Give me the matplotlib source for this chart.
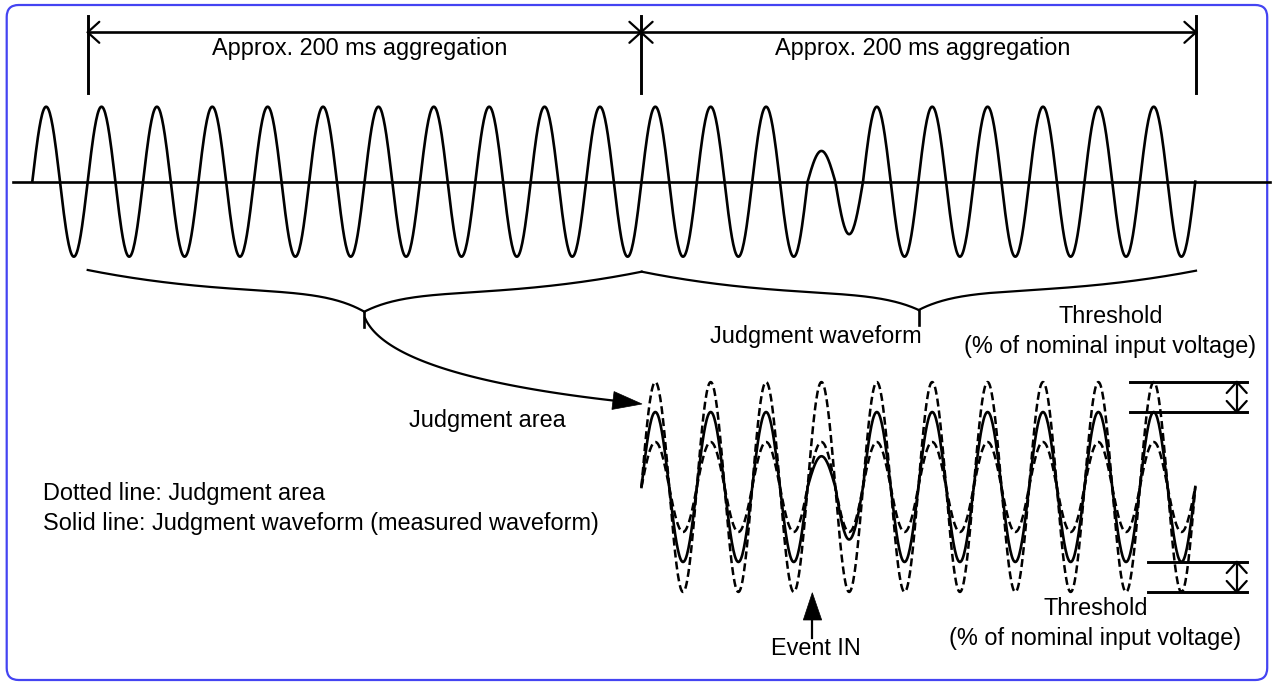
import numpy as np
import matplotlib
matplotlib.use("Agg")
import matplotlib.pyplot as plt
from matplotlib.patches import FancyBboxPatch, Polygon

plt.rcParams['font.family'] = ['Liberation Sans', 'DejaVu Sans']

# ---------------- data ----------------
# relative amplitude of the positive / negative half of each measured cycle
cycle_pos_amplitude = [1.0, 1.0, 1.0, 1.0, 1.0, 1.0, 1.0, 1.0, 1.0, 1.0, 1.0,
                       1.0, 1.0, 1.0, 0.41, 1.0, 1.0, 1.0, 1.0, 1.0, 1.0]
cycle_neg_amplitude = [1.0, 1.0, 1.0, 1.0, 1.0, 1.0, 1.0, 1.0, 1.0, 1.0, 1.0,
                       1.0, 1.0, 1.0, 0.70, 1.0, 1.0, 1.0, 1.0, 1.0, 1.0]
judgment_cycles = [11, 12, 13, 14, 15, 16, 17, 18, 19, 20]
threshold_ratio = 0.40          # judgment area = waveform +/- threshold
aggregation_labels = ["Approx. 200 ms aggregation", "Approx. 200 ms aggregation"]
label_judgment_waveform = "Judgment waveform"
label_judgment_area = "Judgment area"
label_threshold = "Threshold"
label_threshold_sub = "(% of nominal input voltage)"
label_event = "Event IN"
legend_lines = ["Dotted line: Judgment area",
                "Solid line: Judgment waveform (measured waveform)"]

# ---------------- layout ----------------
W, H = 1272, 686
x0, period = 32.3, 55.38
top_c, bot_c, amp = 181.7, 487.0, 75.0
agg_x = [87.7, 641.0, 1196.0]
dim_y, tick_top, tick_bot = 32.3, 16.0, 93.0
FS = 16.9
LW = 1.9
frame_col = '#4444f2'

fig = plt.figure(figsize=(W / 100, H / 100), dpi=100)
ax = fig.add_axes([0, 0, 1, 1])
ax.set_xlim(0, W)
ax.set_ylim(H, 0)
ax.axis('off')

ax.add_patch(FancyBboxPatch((6.7, 5.0), 1260.5, 675.0,
                            boxstyle="round,pad=0,rounding_size=12",
                            ec=frame_col, fc='none', lw=1.6))


def wave(cycles, pos, neg, center, a, n=80):
    xs, ys = [], []
    for k in cycles:
        t = np.linspace(0, 1, n)
        s = np.sin(2 * np.pi * t)
        sc = np.where(s >= 0, pos[k], neg[k])
        xs.append(x0 + (k + t) * period)
        ys.append(center - a * sc * s)
    return np.concatenate(xs), np.concatenate(ys)


def open_v(tip, d, length=11.6, half=10.5, lw=1.6):
    d = np.asarray(d, float)
    d = d / np.hypot(*d)
    nrm = np.array([-d[1], d[0]])
    tip = np.asarray(tip, float)
    base = tip - d * length
    for s in (1, -1):
        p = base + s * half * nrm
        ax.plot([tip[0], p[0]], [tip[1], p[1]], color='k', lw=lw,
                solid_capstyle='round')


# ---------- top dimension lines ----------
ax.plot([agg_x[0], agg_x[-1]], [dim_y, dim_y], color='k', lw=LW)
for xv in agg_x:
    ax.plot([xv, xv], [tick_top, tick_bot], color='k', lw=LW + 0.2)
open_v((agg_x[0], dim_y), (-1, 0))
open_v((agg_x[1], dim_y), (1, 0))
open_v((agg_x[1], dim_y), (-1, 0))
open_v((agg_x[2], dim_y), (1, 0))
ax.text(360, 55, aggregation_labels[0], ha='center', va='baseline', fontsize=FS)
ax.text(923, 55, aggregation_labels[1], ha='center', va='baseline', fontsize=FS)

# ---------- top waveform ----------
ax.plot([12.7, 1270], [top_c, top_c], color='k', lw=LW)
xs, ys = wave(range(len(cycle_pos_amplitude)), cycle_pos_amplitude,
              cycle_neg_amplitude, top_c, amp)
ax.plot(xs, ys, color='k', lw=LW)


# ---------- braces ----------
def half_brace(x_end, y_end, x_cusp, y_cusp, y_flat, p=2.5, q=8, n=200):
    u = np.linspace(0, 1, n)
    x = x_end + (x_cusp - x_end) * u
    y = y_end + (y_flat - y_end) * (1 - (1 - u) ** p) + (y_cusp - y_flat) * u ** q
    return x, y


braces = [((87.7, 270.0), (364.3, 311.7), (641.7, 271.7), 292.0, 294.0),
          ((641.7, 271.7), (918.7, 310.0), (1196.0, 270.7), 294.0, 292.0)]
for (le, cusp, re, fl, fr) in braces:
    for end, flat in ((le, fl), (re, fr)):
        bx, by = half_brace(end[0], end[1], cusp[0], cusp[1], flat)
        ax.plot(bx, by, color='k', lw=1.6)
    ax.plot([cusp[0], cusp[0]], [cusp[1], cusp[1] + 15], color='k', lw=1.9)

# curved arrow to judgment area
S = np.array([365.0, 318.0])
C = np.array([390.0, 375.0])
E = np.array([613.0, 400.5])
t = np.linspace(0, 1, 100)[:, None]
B = (1 - t) ** 2 * S + 2 * (1 - t) * t * C + t ** 2 * E
ax.plot(B[:, 0], B[:, 1], color='k', lw=1.6)
tip = np.array([642.0, 404.0])
d = (tip - E) / np.hypot(*(tip - E))
nrm = np.array([-d[1], d[0]])
ax.add_patch(Polygon([tip, E + 9 * nrm, E - 9 * nrm], closed=True,
                     fc='k', ec='k', lw=0.5))

# ---------- bottom judgment waveforms ----------
n_all = len(cycle_pos_amplitude)
ones = [1.0] * n_all
for a in (amp * (1 + threshold_ratio), amp * (1 - threshold_ratio)):
    bx, by = wave(judgment_cycles, ones, ones, bot_c, a)
    ax.plot(bx, by, color='k', lw=1.8, ls=(0, (3.2, 1.6)))
bx, by = wave(judgment_cycles, cycle_pos_amplitude, cycle_neg_amplitude, bot_c, amp)
ax.plot(bx, by, color='k', lw=LW)

# threshold markers
hi_o, hi_s = bot_c - amp * (1 + threshold_ratio), bot_c - amp
lo_s, lo_o = bot_c + amp, bot_c + amp * (1 + threshold_ratio)
ax.plot([1130, 1246.7], [hi_o, hi_o], color='k', lw=LW + 0.2)
ax.plot([1130, 1246.7], [hi_s, hi_s], color='k', lw=LW + 0.2)
ax.plot([1148.3, 1246.7], [lo_s, lo_s], color='k', lw=LW + 0.2)
ax.plot([1148.3, 1246.7], [lo_o, lo_o], color='k', lw=LW + 0.2)
for ya, yb in ((hi_o, hi_s), (lo_s, lo_o)):
    ax.plot([1236.7, 1236.7], [ya, yb], color='k', lw=1.6)
    open_v((1236.7, ya), (0, -1), length=11, half=10)
    open_v((1236.7, yb), (0, 1), length=11, half=10)

# Event IN arrow
ax.add_patch(Polygon([(812.3, 592.7), (803.3, 620), (821.7, 620)], closed=True,
                     fc='k', ec='k', lw=0.5))
ax.plot([812.3, 812.3], [619, 638], color='k', lw=1.6)

# ---------- texts ----------
ax.text(816, 343, label_judgment_waveform, ha='center', va='baseline', fontsize=FS)
ax.text(1110.5, 323, label_threshold, ha='center', va='baseline', fontsize=FS)
ax.text(1110.5, 353, label_threshold_sub, ha='center', va='baseline', fontsize=FS)
ax.text(487, 427, label_judgment_area, ha='center', va='baseline', fontsize=FS)
ax.text(42.7, 500, legend_lines[0], ha='left', va='baseline', fontsize=FS)
ax.text(42.7, 530, legend_lines[1], ha='left', va='baseline', fontsize=FS)
ax.text(815.5, 655, label_event, ha='center', va='baseline', fontsize=FS)
ax.text(1095.3, 615, label_threshold, ha='center', va='baseline', fontsize=FS)
ax.text(1095, 645, label_threshold_sub, ha='center', va='baseline', fontsize=FS)

fig.savefig('out.png', dpi=100)
